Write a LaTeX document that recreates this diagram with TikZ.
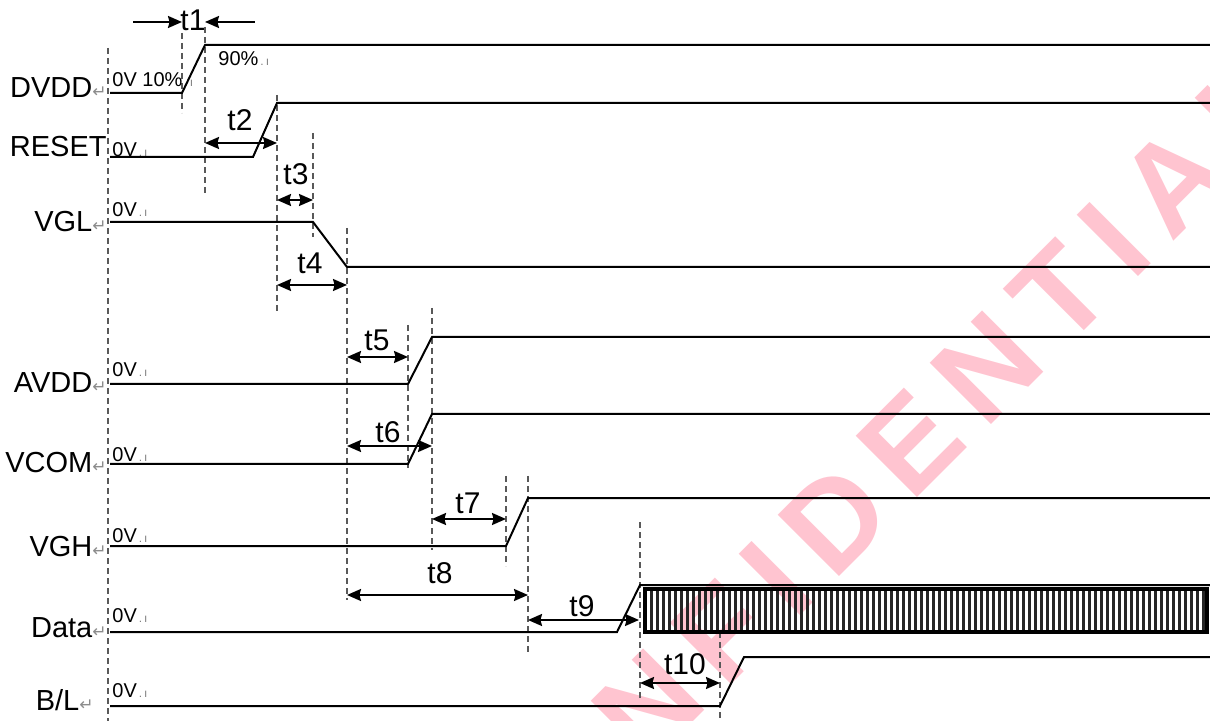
\documentclass[tikz,border=0pt]{standalone}
\usepackage{fontspec}
\setmainfont{Liberation Sans}
\newfontfamily\symfont{DejaVu Sans}
\newfontfamily\wmfont[LetterSpace=16]{Liberation Sans}
\usetikzlibrary{arrows.meta}
\definecolor{wmpink}{RGB}{255,196,208}
\newcommand{\retmark}{{\symfont\color{black!45}\fontsize{8.5}{8.5}\selectfont\char"21B5}}
\newcommand{\cellmark}{{\color{black!50}\fontsize{6}{6}\selectfont\,.\,ı}}

\begin{document}
\begin{tikzpicture}
[x=0.5pt,y=-0.5pt,%
  sig/.style={line width=1pt},%
  guide/.style={dash pattern=on 3pt off 2pt,line width=0.9pt,black!65},%
  dim/.style={<->,>={Stealth[length=7pt,width=6pt,inset=0.8pt]},line width=1pt},%
  signame/.style={anchor=east,inner sep=0pt,font=\fontsize{14.5}{16}\selectfont},%
  volt/.style={anchor=base west,inner sep=0pt,font=\fontsize{10}{11}\selectfont},%
  tlab/.style={inner sep=0pt,font=\fontsize{15}{16}\selectfont}]
\useasboundingbox (0,0) rectangle (1210,721);
\clip (0,0) rectangle (1210,721);
\node[rotate=45,text=wmpink,font=\wmfont\bfseries\fontsize{63}{63}\selectfont] (wm) at (864,490) {CONFIDENTIAL};

% guides
\foreach \x/\ya/\yb in {108/48/721,182/33/113,205/27/195,277/95/313,313/133/237,
  347/228/600,408/325/468,432/308/550,506/476/566,528/476/652,640/522/698,720/632/721}
  \draw[guide] (\x,\ya) -- (\x,\yb);

% signal names
\node[signame] (dvdd) at (107,88) {DVDD\retmark};
\node[signame] (reset) at (107,147) {RESET};
\node[signame] (vgl) at (107,222) {VGL\retmark};
\node[signame] (avdd) at (107,383) {AVDD\retmark};
\node[signame] (vcom) at (107,463) {VCOM\retmark};
\node[signame] (vgh) at (107,547) {VGH\retmark};
\node[signame] (data) at (107,628) {Data\retmark};
\node[signame] (bl) at (94,700) {B/L\retmark};

\node[volt] (v-dvdd) at (112,87) {0V 10\%\cellmark};
\node[volt] (p-dvdd) at (218,66) {90\%\cellmark};
\foreach \n/\y in {reset/157,vgl/217,avdd/377,vcom/462,vgh/542,data/622,bl/697}
  \node[volt] (v-\n) at (112,\y) {0V\cellmark};

% waveforms
\draw[sig] (110,93) -- (182,93) -- (205,45) -- (1210,45);
\draw[sig] (110,157) -- (253,157) -- (277,103) -- (1210,103);
\draw[sig] (110,222) -- (313,222) -- (347,267) -- (1210,267);
\draw[sig] (110,384) -- (408,384) -- (432,337) -- (1210,337);
\draw[sig] (110,464) -- (408,464) -- (432,414) -- (1210,414);
\draw[sig] (110,546) -- (506,546) -- (528,498) -- (1210,498);
\draw[sig] (110,632) -- (617,632) -- (640,585) -- (1210,585);
\draw[sig] (110,706) -- (720,706) -- (744,657) -- (1210,657);

% data burst
\draw[line width=1.6pt] (645,589) rectangle (1207,632);
\foreach \x in {651,657,...,1203}
  \draw[line width=1.5pt,black!85] (\x,591) -- (\x,630);

% timings
\draw[dim,<-] (182,22) -- (133,22);
\draw[dim,<-] (205,22) -- (255,22);
\node[tlab] (t1) at (193,20) {t1};
\foreach \n/\y/\a/\b/\lx/\ly in {2/143/205/277/240/120,3/200/277/313/296/174,
  4/285/277/347/310/263,5/357/347/408/377/340,6/446/347/432/388/432,
  7/519/432/506/468/503,8/595/347/528/440/573,9/620/528/639/582/606,
  10/683/640/720/685/664}
{
  \draw[dim] (\a,\y) -- (\b,\y);
  \node[tlab] (t\n) at (\lx,\ly) {t\n};
}
\end{tikzpicture}
\end{document}
